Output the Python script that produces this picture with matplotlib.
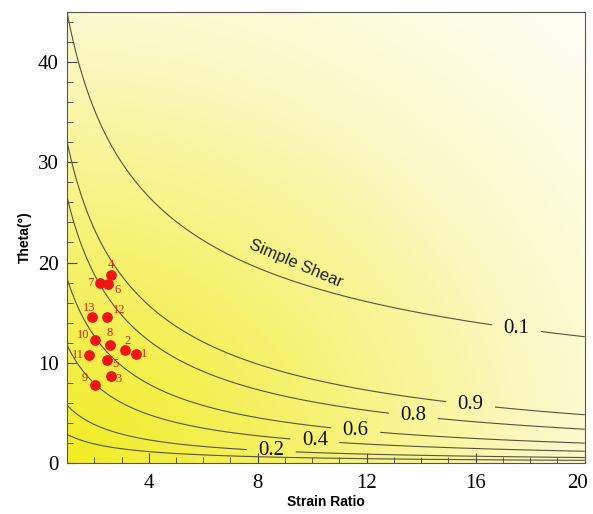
import numpy as np
import matplotlib
matplotlib.use('Agg')
import matplotlib.pyplot as plt
from matplotlib.colors import LinearSegmentedColormap
from matplotlib.ticker import MultipleLocator
from matplotlib.transforms import ScaledTranslation

# Datos de las muestras (Strain Ratio, Theta en grados)
sample_ids = ['1', '2', '3', '4', '5', '6', '7', '8', '9', '10', '11', '12', '13']
strain_ratio = [3.55, 3.13, 2.61, 2.61, 2.46, 2.52, 2.20, 2.58, 2.02, 2.02, 1.82, 2.48, 1.93]
theta = [10.9, 11.3, 8.7, 18.8, 10.3, 17.9, 18.0, 11.8, 7.8, 12.3, 10.8, 14.6, 14.6]
# desplazamiento de cada etiqueta respecto al punto (pixeles)
label_offsets = [(8, 0), (3, 9), (8, -3), (0, 10), (9, -4), (9, -6), (-9, 0), (0, 12),
                 (-10, 7), (-12, 5), (-11, 0), (12, 7), (-3, 9)]

# Niveles de vorticidad cinematica (Wk) dibujados
wk_levels = [0.1, 0.2, 0.4, 0.6, 0.8, 0.9]
wk_label_text = {0.2: '0.2', 0.4: '0.4', 0.6: '0.6', 0.8: '0.8', 0.9: '0.9'}
wk_label_pos = {0.2: (8.5, 1.4), 0.4: (10.1, 2.4), 0.6: (11.6, 3.4), 0.8: (13.7, 4.4),
                0.9: (15.8, 5.7)}
# la curva de cizalla simple (Wk = 1) lleva la etiqueta "0.1" en el original
ss_label = '0.1'
ss_label_pos = (17.5, 13.5)


def wk_field(R, th_deg):
    # Tikoff & Fossen (1995)
    k = (R + 1) / (R - 1)
    t2 = np.radians(2 * th_deg)
    return np.sin(np.arctan(np.sin(t2) / (k - np.cos(t2)))) * k


def theta_simple_shear(R):
    return 0.5 * np.degrees(np.arccos((R - 1) / (R + 1)))


fig = plt.figure(figsize=(5.93, 5.14), dpi=100)
ax = fig.add_axes([0.113, 0.099, 0.873, 0.878])

# fondo degradado amarillo -> blanco
u, v = np.meshgrid(np.linspace(0, 1, 300), np.linspace(0, 1, 300))
t = np.clip(np.sqrt(u ** 2 + v ** 2) / np.sqrt(2), 0, 1)
cmap = LinearSegmentedColormap.from_list('yl', ['#f1ec22', '#f6f270', '#fbf9c8', '#fffff6'])
ax.imshow(t, extent=[1, 20, 0, 45], origin='lower', aspect='auto', cmap=cmap, zorder=0)

R = np.linspace(1.0005, 20, 800)
TH = np.linspace(0.01, 45, 900)
RR, TT = np.meshgrid(R, TH)
W = wk_field(RR, TT)
W = np.where(TT > theta_simple_shear(RR), np.nan, W)

texts = []
for lv in wk_levels:
    cs = ax.contour(RR, TT, W, levels=[lv], colors='#55553a', linewidths=0.8, zorder=2)
    if lv in wk_label_pos:
        texts += ax.clabel(cs, inline=True, inline_spacing=8, fmt={lv: wk_label_text[lv]},
                           fontsize=15, manual=[wk_label_pos[lv]])

# curva de cizalla simple
cs2 = ax.contour(RR, TT, TT - theta_simple_shear(RR), levels=[0], colors='#55553a',
                 linewidths=0.8, zorder=2)
texts += ax.clabel(cs2, inline=True, inline_spacing=8, fmt={0: ss_label}, fontsize=15,
                   manual=[ss_label_pos])
for tx in texts:
    tx.set_family('Liberation Serif')
    tx.set_rotation(0)
    tx.set_color('#111111')

ax.text(9.4, 19.9, 'Simple Shear', rotation=-23, fontsize=12, family='Liberation Sans',
        ha='center', va='center', color='#222222', zorder=3)

ax.scatter(strain_ratio, theta, s=45, color='#f01515', zorder=4)
for sid, x, y, off in zip(sample_ids, strain_ratio, theta, label_offsets):
    ax.annotate(sid, (x, y), xytext=off, textcoords='offset pixels', ha='center', va='center',
                color='#e82020', fontsize=9, family='Liberation Serif', zorder=5)

ax.set_xlim(1, 20)
ax.set_ylim(0, 45)
ax.set_xticks([4, 8, 12, 16, 20])
ax.set_yticks([0, 10, 20, 30, 40])
ax.xaxis.set_minor_locator(MultipleLocator(1))
ax.yaxis.set_minor_locator(MultipleLocator(2))
ax.tick_params(which='both', direction='in', top=False, right=False, color='#444444')
ax.tick_params(which='major', length=7, labelsize=15)
ax.tick_params(axis='x', which='major', pad=8)
ax.tick_params(axis='y', which='major', pad=6)
ax.tick_params(which='minor', length=4)
for lb in ax.get_xticklabels() + ax.get_yticklabels():
    lb.set_family('Liberation Serif')
# el "20" queda pegado al borde derecho
last = ax.get_xticklabels()[-1]
last.set_transform(last.get_transform() + ScaledTranslation(-5 / 72, 0, fig.dpi_scale_trans))
for sp in ax.spines.values():
    sp.set_color('#555555')
    sp.set_linewidth(0.8)

ax.set_xlabel('Strain Ratio', fontsize=10, fontweight='bold', family='Liberation Sans', labelpad=1)
ax.set_ylabel('Theta(°)', fontsize=10, fontweight='bold', family='Liberation Sans', labelpad=4)

fig.savefig('out.png', dpi=100)
